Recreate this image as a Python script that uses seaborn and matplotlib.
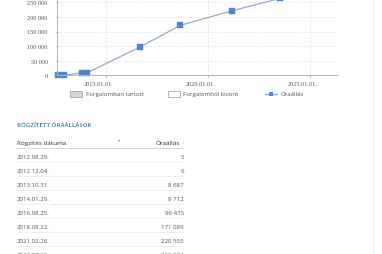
import matplotlib
matplotlib.use("Agg")
import matplotlib.pyplot as plt
import matplotlib.dates as mdates
from matplotlib.patches import Rectangle
from matplotlib.lines import Line2D
from matplotlib.transforms import ScaledTranslation
import seaborn as sns
import pandas as pd

# ---- data ----
dates = ["2012-08-29", "2012-12-04", "2013-10-31", "2014-01-29",
         "2016-08-25", "2018-08-22", "2021-02-26", "2023-07-20"]
values = [5, 6, 8687, 8712, 96435, 171089, 220555, 263824]
x_ticks = ["2015-01-01", "2020-01-01", "2025-01-01"]
y_ticks = [0, 50000, 100000, 150000, 200000, 250000, 300000]
legend_labels = ["Forgalomban tartott", "Forgalomból kivont", "Óraállás"]
section_title = "RÖGZÍTETT ÓRAÁLLÁSOK"
table_headers = ["Rögzítés dátuma", "Óraállás"]

df = pd.DataFrame({"date": pd.to_datetime(dates), "value": values})

sns.set_theme(style="white")
plt.rcParams["font.family"] = ["Open Sans", "DejaVu Sans"]

W, H = 382, 255
fig = plt.figure(figsize=(W / 100, H / 100), dpi=100)
fig.patch.set_facecolor("white")

def fx(x):
    return x / W

def fy(y):
    return 1 - y / H

# axes: left 57.3px, right 338px, y=0 at 76.3px, 50k per 14.6px
ax_left, ax_right = 57.3, 338.0
y0 = 76.3
ytop = y0 - 6 * 14.6
ax = fig.add_axes([fx(ax_left), fy(y0), fx(ax_right - ax_left), (y0 - ytop) / H])
ax.set_facecolor("none")

LINE_C = "#94abca"
MARK_C = "#4f86c6"

sns.lineplot(data=df, x="date", y="value", ax=ax, color=LINE_C, linewidth=0.9,
             marker="s", markersize=3.7, markerfacecolor=MARK_C,
             markeredgecolor=MARK_C, markeredgewidth=0.3, clip_on=False)

ax.set_xlim(pd.Timestamp("2012-08-12"), pd.Timestamp("2026-05-15"))
ax.set_ylim(0, 300000)
ax.set_xlabel("")
ax.set_ylabel("")

ax.set_xticks(pd.to_datetime(x_ticks))
ax.xaxis.set_major_formatter(mdates.DateFormatter("%Y.%m.%d."))
ax.set_yticks(y_ticks)
ax.set_yticklabels([f"{v:,}".replace(",", " ") for v in y_ticks])

ax.grid(True, color="#e0e0e0", linestyle=(0, (2, 2)), linewidth=0.6)
for s in ["top", "right"]:
    ax.spines[s].set_visible(False)
for s in ["left", "bottom"]:
    ax.spines[s].set_color("#b5b5b5")
    ax.spines[s].set_linewidth(0.7)

ax.tick_params(axis="both", which="both", length=1.8, width=0.6, color="#b5b5b5",
               labelsize=4.5, labelcolor="#555555")
ax.tick_params(axis="x", pad=2.0, bottom=True)
ax.tick_params(axis="y", pad=5.0, left=True)
for lab in ax.get_xticklabels() + ax.get_yticklabels():
    lab.set_fontfamily(["Liberation Serif", "DejaVu Serif"])
off = ScaledTranslation(-7.5 / 100, 0, fig.dpi_scale_trans)
for lab in ax.get_xticklabels():
    lab.set_transform(lab.get_transform() + off)

# ---- panel border ----
fig.add_artist(Line2D([fx(373), fx(373)], [0, 1], color="#ececec", linewidth=0.8))

# ---- legend ----
ly = 94.7
TXT = "#555555"
fig.add_artist(Rectangle((fx(70), fy(97.7)), fx(12), 6 / H, facecolor="#d6d6d6",
                         edgecolor="#a9a9a9", linewidth=0.6))
fig.text(fx(86), fy(ly), legend_labels[0], fontsize=4.4, color=TXT, va="center", ha="left")
fig.add_artist(Rectangle((fx(168), fy(97.7)), fx(12), 6 / H, facecolor="white",
                         edgecolor="#a9a9a9", linewidth=0.6))
fig.text(fx(183), fy(ly), legend_labels[1], fontsize=4.4, color=TXT, va="center", ha="left")
fig.add_artist(Line2D([fx(265), fx(277)], [fy(ly), fy(ly)], color=LINE_C, linewidth=1.0))
fig.add_artist(Line2D([fx(271)], [fy(ly)], marker="s", markersize=3.2, color=MARK_C,
                      markeredgewidth=0))
fig.text(fx(281), fy(ly), legend_labels[2], fontsize=4.4, color=TXT, va="center", ha="left")

# ---- table ----
fig.text(fx(17), fy(125.7), section_title, fontsize=4.4, color="#2f7a90",
         va="center", ha="left", fontweight="semibold")

fig.text(fx(17), fy(143.3), table_headers[0], fontsize=4.6, color="#333333",
         va="center", ha="left")
fig.text(fx(119), fy(140.5), "▲", fontsize=2.2, color="#7f7fc8", va="center", ha="center",
         family=["DejaVu Sans"])
fig.text(fx(179.5), fy(143.3), table_headers[1], fontsize=4.6, color="#333333",
         va="center", ha="right")
fig.text(fx(183), fy(143.0), "↕", fontsize=3.0, color="#cccccc", va="center", ha="center",
         family=["DejaVu Sans"])

fig.add_artist(Line2D([fx(16), fx(184)], [fy(149.3), fy(149.3)], color="#d8d8d8", linewidth=0.7))
row_y = [157.3, 171.2, 185.3, 199.3, 213.3, 227.3, 241.3, 255.2]
for i, (d, v) in enumerate(zip(df["date"], values)):
    fig.text(fx(17), fy(row_y[i]), d.strftime("%Y.%m.%d."), fontsize=4.4, color="#555555",
             va="center", ha="left")
    fig.text(fx(183.7), fy(row_y[i]), f"{v:,}".replace(",", " "), fontsize=4.4,
             color="#555555", va="center", ha="right")
    if i < len(values) - 1:
        sy = (row_y[i] + row_y[i + 1]) / 2 - 1
        fig.add_artist(Line2D([fx(16), fx(184)], [fy(sy), fy(sy)], color="#ececec",
                              linewidth=0.6))

fig.savefig("out.png", dpi=100, facecolor="white")
